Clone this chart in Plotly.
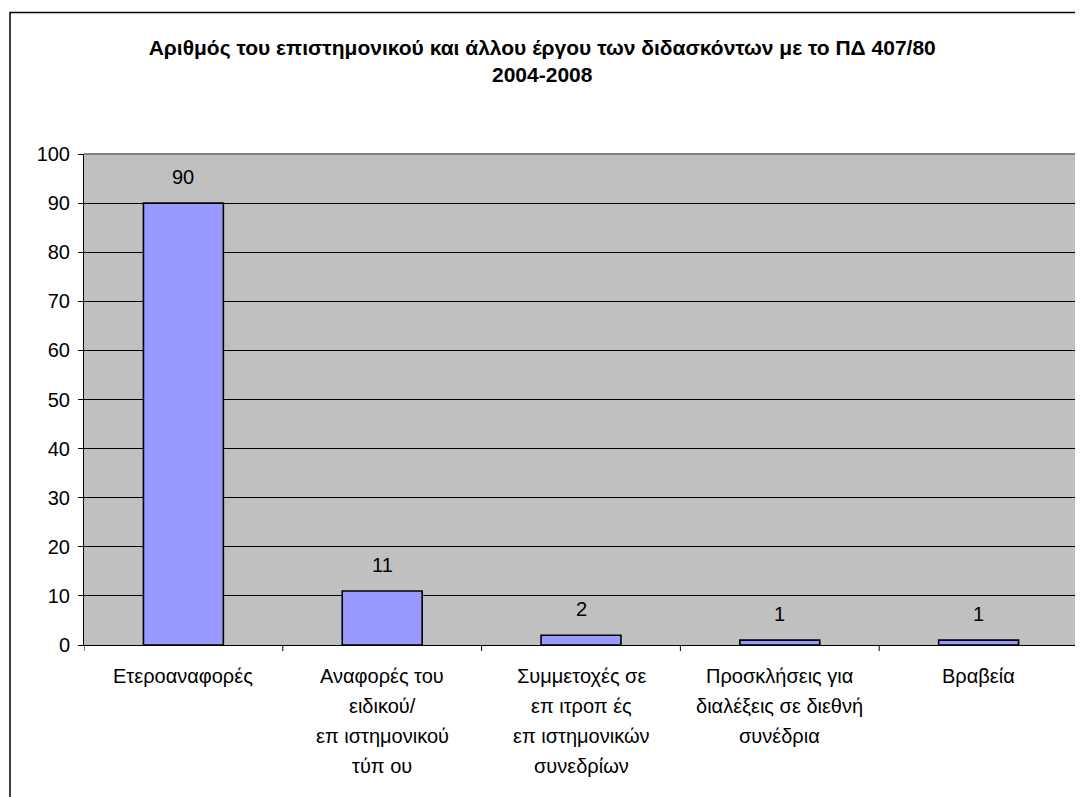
import plotly.graph_objects as go

categories = [
    "Ετεροαναφορές",
    "Αναφορές του<br>ειδικού/<br>επ ιστημονικού<br>τύπ ου",
    "Συμμετοχές σε<br>επ ιτροπ ές<br>επ ιστημονικών<br>συνεδρίων",
    "Προσκλήσεις για<br>διαλέξεις σε διεθνή<br>συνέδρια",
    "Βραβεία",
]
values = [90, 11, 2, 1, 1]
title_lines = ["Αριθμός του επιστημονικού και άλλου έργου των διδασκόντων με το ΠΔ 407/80", "2004-2008"]
y_ticks = list(range(0, 101, 10))

FONT = "Liberation Sans, Arial, sans-serif"
FS = 20

# page body has an 8px margin; figure sized so the plot lands where the reference has it
W, H = 1075, 789
L, R, T, B = 76, 5, 146, 152
PW, PH = W - L - R, H - T - B

fig = go.Figure()
x_idx = list(range(len(categories)))
fig.add_trace(go.Bar(
    x=x_idx,
    y=values,
    marker=dict(color="#9999FF", line=dict(color="black", width=1.6)),
    width=0.402,
    showlegend=False,
    hoverinfo="skip",
))

# value labels above bars
for i, v in zip(x_idx, values):
    fig.add_annotation(x=i, y=v, xref="x", yref="y", text=str(v), showarrow=False,
                       yshift=26, font=dict(family=FONT, size=FS, color="black"))

# category labels, one line per annotation for wider line spacing
for i, lab in zip(x_idx, categories):
    for j, line in enumerate(lab.split("<br>")):
        fig.add_annotation(x=i, y=0, xref="x", yref="y", text=line, showarrow=False,
                           yshift=-(31 + 30 * j), yanchor="middle",
                           font=dict(family=FONT, size=FS, color="black"))

fig.update_layout(
    width=W, height=H,
    margin=dict(l=L, r=R, t=T, b=B),
    paper_bgcolor="white",
    plot_bgcolor="#C0C0C0",
    title=dict(text="<br>".join("<b>" + t + "</b>" for t in title_lines),
               xref="paper", x=0.461, xanchor="center",
               yref="container", y=1 - 47 / H, yanchor="top",
               font=dict(family=FONT, size=21, color="black")),
    font=dict(family=FONT, size=FS, color="black"),
    xaxis=dict(
        tickmode="array",
        tickvals=x_idx,
        ticktext=[""] * len(categories),
        range=[-0.5, len(categories) - 0.5],
        showgrid=False,
        showline=True, linecolor="black", linewidth=1,
        ticks="", zeroline=False,
    ),
    yaxis=dict(
        range=[0, 100], tickmode="array", tickvals=y_ticks,
        ticktext=[str(t) for t in y_ticks],
        showgrid=True, gridcolor="black", gridwidth=1,
        showline=True, linecolor="black", linewidth=1,
        ticks="outside", ticklen=5, tickcolor="black",
        ticklabelstandoff=4,
        zeroline=False,
        tickfont=dict(family=FONT, size=FS, color="black"),
    ),
)

# category separator ticks below the x-axis
for b in range(len(categories) + 1):
    fig.add_shape(type="line", xref="x", yref="paper",
                  x0=b - 0.5, x1=b - 0.5, y0=0, y1=-6 / PH,
                  line=dict(color="black", width=1))

# plot area top/right border (gray)
fig.add_shape(type="line", xref="paper", yref="paper", x0=0, x1=1, y0=1, y1=1,
              line=dict(color="#808080", width=2), layer="above")
fig.add_shape(type="line", xref="paper", yref="paper", x0=1, x1=1, y0=0, y1=1,
              line=dict(color="#808080", width=2), layer="above")

# outer chart border
fig.add_shape(type="rect", xref="paper", yref="paper",
              x0=(2 - L) / PW, x1=(W + 20 - L) / PW,
              y0=-(B + 20) / PH, y1=(PH + T - 4.5) / PH,
              line=dict(color="black", width=1.5))

fig.write_html("out.html")
